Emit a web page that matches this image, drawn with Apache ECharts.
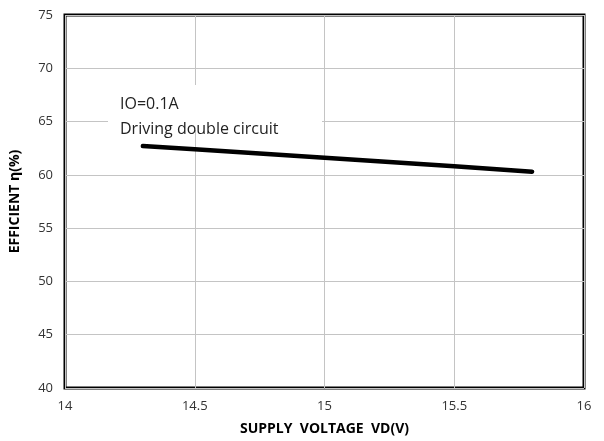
<!DOCTYPE html>
<html><head><meta charset="utf-8">
<script src="https://cdn.jsdelivr.net/npm/echarts@6/dist/echarts.min.js"></script>
<style>html,body{margin:0;padding:0;background:#fff}#c{width:604px;height:441px}</style>
</head><body><div id="c"></div>
<script>
const voltage = [14.3, 14.5, 15.0, 15.5, 15.8];
const efficiency = [62.7, 62.4, 61.6, 60.8, 60.3];
const xTicks = [14, 14.5, 15, 15.5, 16];
const yTicks = [40, 45, 50, 55, 60, 65, 70, 75];
const noteLines = ['IO=0.1A', 'Driving double circuit'];
const xTitle = 'SUPPLY  VOLTAGE  VD(V)';
const yTitle = 'EFFICIENT η(%)';

const chart = echarts.init(document.getElementById('c'), null, {renderer:'canvas'});
const font = 'Open Sans, Liberation Sans, sans-serif';
chart.setOption({
  animation:false,
  backgroundColor:'#fff',
  grid:{left:63,right:20,top:15,bottom:53,show:true,borderColor:'#000',borderWidth:3,backgroundColor:'transparent'},
  xAxis:{type:'value',min:xTicks[0],max:xTicks[xTicks.length-1],interval:0.5,
    name:xTitle,nameLocation:'middle',nameGap:34,
    nameTextStyle:{fontFamily:font,fontWeight:'bold',fontSize:14,color:'#000'},
    axisLine:{show:false},axisTick:{show:false},
    axisLabel:{fontFamily:font,fontSize:13,color:'#333',margin:12,formatter:v=>String(v)},
    splitLine:{show:true,lineStyle:{color:'#c4c4c4',width:1}}},
  yAxis:{type:'value',min:yTicks[0],max:yTicks[yTicks.length-1],interval:5,
    name:yTitle,nameLocation:'middle',nameGap:43,
    nameTextStyle:{fontFamily:font,fontWeight:'bold',fontSize:14,color:'#000'},
    axisLine:{show:false},axisTick:{show:false},
    axisLabel:{fontFamily:font,fontSize:13,color:'#333',margin:12},
    splitLine:{show:true,lineStyle:{color:'#c4c4c4',width:1}}},
  series:[{type:'line',data:voltage.map((v,i)=>[v,efficiency[i]]),
    symbol:'none',lineStyle:{color:'#000',width:4.5,cap:'round'},z:3}],
  graphic:[
    {type:'rect',z:100,shape:{x:108,y:85,width:214,height:45},style:{fill:'#ffffff'}},
    {type:'text',z:101,x:120,y:92,style:{text:noteLines.join('\n'),font:'16px '+font,fill:'#222',lineHeight:25}}
  ]
});
</script></body></html>
